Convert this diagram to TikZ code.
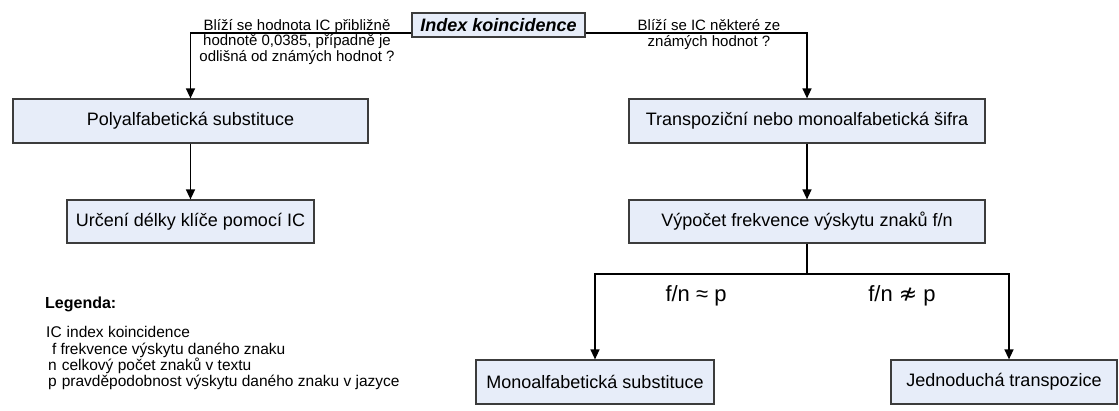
\documentclass[tikz,border=0pt]{standalone}
\usepackage{fontspec}
\setmainfont{Liberation Sans}
\newfontfamily\symfont{DejaVu Sans}
\usetikzlibrary{arrows.meta}

\definecolor{boxfill}{RGB}{231,237,249}
\definecolor{boxline}{RGB}{60,60,60}

\begin{document}
\begin{tikzpicture}[x=1pt, y=-1pt,
  box/.style={draw=boxline, fill=boxfill, line width=1.2pt, inner sep=0pt,
    font=\fontsize{18}{20}\selectfont},
  arr/.style={line width=1.4pt, -{Triangle[width=9pt,length=10pt]}},
  link/.style={line width=1.4pt},
  lbl/.style={font=\fontsize{15}{15.5}\selectfont, align=center, inner sep=0pt},
  rel/.style={font=\fontsize{22}{24}\selectfont, inner sep=0pt},
  leg/.style={anchor=west, inner sep=0pt, font=\fontsize{15.5}{17}\selectfont,
    text height=0.72em, text depth=0.22em}]

  \useasboundingbox (0,0) rectangle (1119,411);

  % === ROOT ===
  \node[box, minimum width=173pt, minimum height=24pt,
    font=\fontsize{18}{20}\selectfont\bfseries\itshape]
    (ik) at (498.5,25) {Index koincidence};

  % === LEFT BRANCH ===
  \node[box, minimum width=355pt, minimum height=44pt]
    (poly) at (190.5,121) {Polyalfabetická substituce};
  \node[box, minimum width=247pt, minimum height=43pt]
    (urc) at (190.5,221.5) {Určení délky klíče pomocí IC};

  \node[lbl] (qleft) at (297,42)
    {Blíží se hodnota IC přibližně\\hodnotě 0,0385, případně je\\odlišná od známých hodnot ?};

  \draw[arr] ([yshift=-8pt]ik.west) -| (poly.north);
  \draw[arr] (poly.south) -- (urc.north);

  % === RIGHT BRANCH ===
  \node[box, minimum width=356pt, minimum height=44pt]
    (trans) at (807,121) {Transpoziční nebo monoalfabetická šifra};
  \node[box, minimum width=356pt, minimum height=43pt]
    (vyp) at (807,221.5) {Výpočet frekvence výskytu znaků f/n};

  \node[lbl] (qright) at (709,34.5)
    {Blíží se IC některé ze\\známých hodnot ?};

  \draw[arr] ([yshift=-8pt]ik.east) -| (trans.north);
  \draw[arr] (trans.south) -- (vyp.north);

  % Fork to the two results
  \node[box, minimum width=238pt, minimum height=44pt]
    (mono) at (595,382) {Monoalfabetická substituce};
  \node[box, minimum width=226pt, minimum height=44pt]
    (jed) at (1004,382) {Jednoduchá transpozice};

  \coordinate (fork) at (807,274);
  \draw[link] (vyp.south) -- (fork);
  \draw[arr] (fork) -| (mono.north);
  \draw[arr] (fork) -| ([xshift=5pt]jed.north);

  \node[rel] (approx) at (696,296) {f/n ≈ p};
  \node[rel] (napprox) at (902,296) {f/n {\symfont ≉} p};

  % === LEGEND ===
  \node[anchor=west, inner sep=0pt, font=\fontsize{16}{18}\selectfont\bfseries]
    (legtitle) at (45,304) {Legenda:};
  \node[leg] (legic) at (46,335) {IC\hspace{5pt}index koincidence};
  \node[leg] (legf) at (52,352) {f\hspace{4pt}frekvence výskytu daného znaku};
  \node[leg] (legn) at (48,368) {n\hspace{5pt}celkový počet znaků v textu};
  \node[leg] (legp) at (48,384) {p\hspace{5pt}pravděpodobnost výskytu daného znaku v jazyce};

\end{tikzpicture}
\end{document}
